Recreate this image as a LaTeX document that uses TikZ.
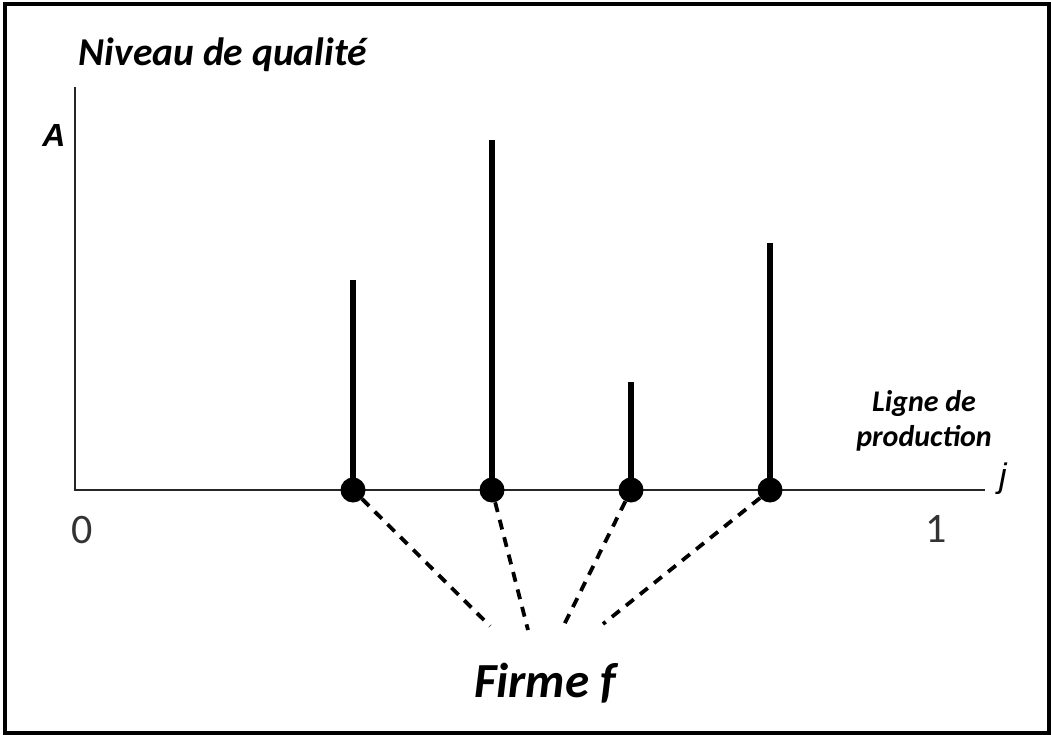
\documentclass[tikz,border=0pt]{standalone}
\usepackage{fontspec}
\newfontfamily\calfont{Carlito}
\newfontfamily\arfont{Liberation Sans}
\begin{document}
\begin{tikzpicture}[x=1pt,y=-1pt,
  axis/.style={line width=2.4pt, draw=black!85},
  stem/.style={line width=6pt, draw=black},
  dot/.style={circle, fill=black, minimum size=25pt, inner sep=0pt},
  dashline/.style={line width=3.8pt, dash pattern=on 10pt off 8pt},
  lbl/.style={inner sep=0pt, font=\calfont\bfseries\itshape},
  num/.style={inner sep=0pt, text=black!80, font=\calfont\fontsize{42}{42}\selectfont}
]
\useasboundingbox (0,0) rectangle (1051,735);
\draw[line width=4pt] (4.5,4) rectangle (1048.5,732.5);

% axes
\coordinate (o) at (75,490);
\coordinate (ytop) at (75,87);
\coordinate (xend) at (985,490);
\draw[axis] (ytop) -- (o) -- (xend);

% labels
\node[lbl, font=\calfont\bfseries\itshape\fontsize{39.5}{39.5}\selectfont] (title) at (223,55) {Niveau de qualité};
\node[inner sep=0pt, font=\arfont\bfseries\itshape\fontsize{32}{32}\selectfont] (A) at (54,135) {A};
\node[lbl, font=\calfont\bfseries\itshape\fontsize{30}{35}\selectfont, align=center] (ligne) at (924,421) {Ligne de\\production};
\node[inner sep=0pt, font=\arfont\itshape\fontsize{34}{34}\selectfont] (j) at (1003,479) {j};
\node[num] (zero) at (82,530) {0};
\node[num] (one) at (936,529) {1};

% stems and dots
\node[dot] (d1) at (353,490) {};
\node[dot] (d2) at (492,490) {};
\node[dot] (d3) at (631,490) {};
\node[dot] (d4) at (770,490) {};
\coordinate (t1) at (353,280);
\coordinate (t2) at (492,140);
\coordinate (t3) at (631,382);
\coordinate (t4) at (770,243);
\foreach \i in {1,...,4} \draw[stem] (d\i.center) -- (t\i);

% dashed connectors
\coordinate (e1) at (490,626);
\coordinate (e2) at (528,630);
\coordinate (e3) at (563,627);
\coordinate (e4) at (603,624);
\foreach \i in {1,...,4} \draw[dashline] (d\i) -- (e\i);

\node[lbl, font=\calfont\bfseries\itshape\fontsize{49}{49}\selectfont] (firme) at (545,683) {Firme f};
\end{tikzpicture}
\end{document}
